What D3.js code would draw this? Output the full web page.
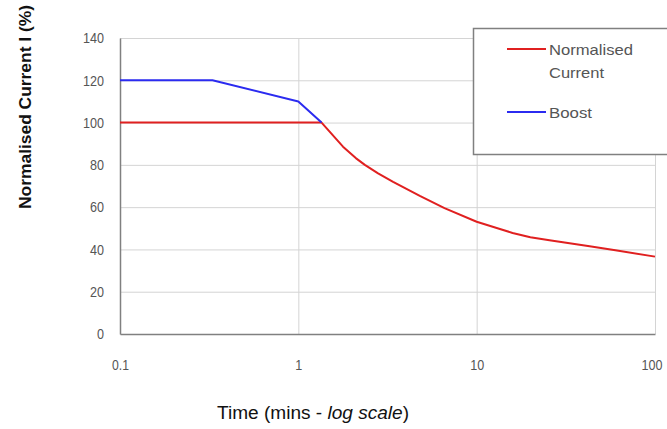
<!DOCTYPE html>
<html>
<head>
<meta charset="utf-8">
<script src="https://cdn.jsdelivr.net/npm/d3@7"></script>
<style>
  body { margin: 0; background: #fff; }
  svg { display: block; }
  .tick text { font-family: "Liberation Sans", Arial, sans-serif; font-size: 15px; fill: #555; }
</style>
</head>
<body>
<script>
'use strict';

// time in minutes (log scale) vs normalised current (%)
let redTime  = [0.1, 1.35, 1.78, 2.1, 2.36, 2.8, 3.4, 4.8, 6.6, 10, 13.5, 15.9, 20, 25.6, 43, 60, 100];
let redValue = [100, 100, 88.6, 83.2, 80, 76, 72, 65.3, 59.5, 53.1, 49.7, 47.8, 45.8, 44.3, 41.5, 39.6, 36.6];

let blueTime  = [0.1, 0.33, 1, 1.35];
let blueValue = [120, 120, 110, 100];

let xTicks = [0.1, 1, 10, 100];
let yTicks = [0, 20, 40, 60, 80, 100, 120, 140];

let series = [
  { name: ["Normalised", "Current"], time: redTime, value: redValue, color: "#e02020" },
  { name: ["Boost"], time: blueTime, value: blueValue, color: "#2b2bf0" }
];

(function () {
  let width = 667, height = 429;
  let left = 120, right = 655, top = 38, bottom = 334;

  let svg = d3.select('body')
    .append('svg')
    .attr('width', width)
    .attr('height', height);

  let xScale = d3.scaleLog().domain([0.1, 100]).range([left, right]);
  let yScale = d3.scaleLinear().domain([0, 140]).range([bottom, top]);

  // narrow the digits the way the original font does
  function squeeze(sel) {
    sel.selectAll('.tick text').each(function () {
      let s = this.textContent;
      let w = s.replace(/\./g, '').length * 7 + (s.split('.').length - 1) * 3;
      d3.select(this).attr('textLength', w).attr('lengthAdjust', 'spacingAndGlyphs');
    });
  }

  // horizontal grid lines
  svg.append('g')
    .attr('transform', `translate(${left}, 0)`)
    .call(d3.axisLeft(yScale).tickValues(yTicks.slice(1)).tickSize(-(right - left)).tickFormat(''))
    .call(g => g.select('.domain').remove())
    .call(g => g.selectAll('line').attr('stroke', '#d4d4d4').attr('stroke-width', 1));

  // vertical grid lines
  svg.append('g')
    .attr('transform', `translate(0, ${bottom})`)
    .call(d3.axisBottom(xScale).tickValues(xTicks.slice(1)).tickSize(-(bottom - top)).tickFormat(''))
    .call(g => g.select('.domain').remove())
    .call(g => g.selectAll('line').attr('stroke', '#d4d4d4').attr('stroke-width', 1));

  // y axis
  svg.append('g')
    .attr('transform', `translate(${left}, 0)`)
    .call(d3.axisLeft(yScale).tickValues(yTicks).tickSize(0).tickPadding(16).tickFormat(d3.format('d')))
    .call(g => g.select('.domain').attr('stroke', '#808080').attr('stroke-width', 1.5))
    .call(squeeze);

  // x axis
  svg.append('g')
    .attr('transform', `translate(0, ${bottom})`)
    .call(d3.axisBottom(xScale).tickValues(xTicks).tickSize(0).tickPadding(25).tickFormat(d => String(d)))
    .call(g => g.select('.domain').attr('stroke', '#808080').attr('stroke-width', 1.5))
    .call(squeeze)
    // last label sits against the right edge
    .call(g => g.selectAll('.tick text').filter(d => d === 100).attr('text-anchor', 'end').attr('x', 7));

  // lines
  let line = d3.line()
    .x((d) => xScale(d[0]))
    .y((d) => yScale(d[1]));

  series.forEach((s) => {
    let pts = s.time.map((t, i) => [t, s.value[i]]);
    svg.append('path')
      .datum(pts)
      .attr('fill', 'none')
      .attr('stroke', s.color)
      .attr('stroke-width', 2)
      .attr('stroke-linejoin', 'round')
      .attr('d', line);
  });

  // legend
  let legend = svg.append('g');
  legend.append('rect')
    .attr('x', 473.5)
    .attr('y', 28.5)
    .attr('width', 200)
    .attr('height', 126)
    .attr('fill', '#fff')
    .attr('stroke', '#808080')
    .attr('stroke-width', 1.5);

  let legendY = [49, 112];
  let legendWidths = [[84, 55], [43]];
  series.forEach((s, i) => {
    legend.append('line')
      .attr('x1', 507).attr('x2', 546)
      .attr('y1', legendY[i]).attr('y2', legendY[i])
      .attr('stroke', s.color)
      .attr('stroke-width', 2);
    s.name.forEach((n, j) => {
      legend.append('text')
        .attr('x', 549)
        .attr('y', legendY[i] + 6 + j * 23)
        .attr('textLength', legendWidths[i][j])
        .attr('lengthAdjust', 'spacingAndGlyphs')
        .style('font-family', '"Liberation Sans", Arial, sans-serif')
        .style('font-size', '15px')
        .style('fill', '#555')
        .text(n);
    });
  });

  // axis titles
  svg.append('text')
    .attr('transform', 'translate(31, 107)rotate(-90)')
    .attr('text-anchor', 'middle')
    .attr('textLength', 204)
    .attr('lengthAdjust', 'spacingAndGlyphs')
    .style('font-family', '"Liberation Sans", Arial, sans-serif')
    .style('font-size', '16px')
    .style('font-weight', 'bold')
    .style('fill', '#111')
    .text('Normalised Current I  (%)');

  let xt = svg.append('text')
    .attr('x', 217)
    .attr('y', 419)
    .attr('textLength', 192)
    .attr('lengthAdjust', 'spacingAndGlyphs')
    .style('font-family', '"Liberation Sans", Arial, sans-serif')
    .style('font-size', '18px')
    .style('fill', '#111');
  xt.append('tspan').text('Time (mins - ');
  xt.append('tspan').style('font-style', 'italic').text('log scale');
  xt.append('tspan').text(')');
})();
</script>
</body>
</html>
